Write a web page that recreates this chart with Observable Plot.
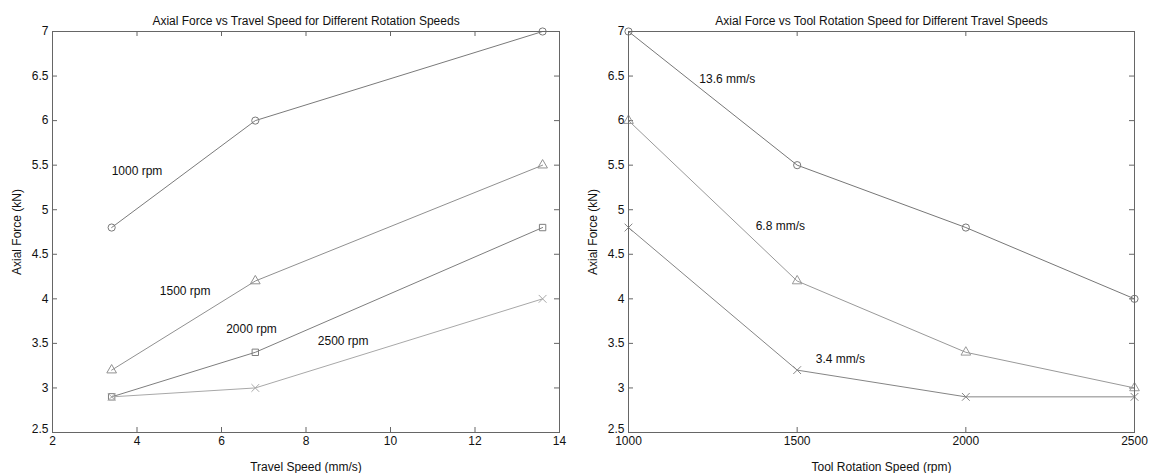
<!DOCTYPE html>
<html>
<head>
<meta charset="utf-8">
<script src="https://cdn.jsdelivr.net/npm/d3@7"></script>
<script src="https://cdn.jsdelivr.net/npm/@observablehq/plot@0.6"></script>
<style>
  html, body { margin: 0; padding: 0; background: #fff; }
  #wrap { display: flex; width: 1153px; height: 473px; }
</style>
</head>
<body>
<div id="wrap"></div>
<script>
// ---------- data ----------
const travelSpeeds = [3.4, 6.8, 13.6];
const rpm1000 = [4.8, 6.0, 7.0];
const rpm1500 = [3.2, 4.2, 5.5];
const rpm2000 = [2.9, 3.4, 4.8];
const rpm2500 = [2.9, 3.0, 4.0];

const rotationSpeeds = [1000, 1500, 2000, 2500];
const ts136 = [7.0, 5.5, 4.8, 4.0];
const ts68 = [6.0, 4.2, 3.4, 3.0];
const ts34 = [4.8, 3.2, 2.9, 2.9];

const leftXTicks = [2, 4, 6, 8, 10, 12, 14];
const rightXTicks = [1000, 1500, 2000, 2500];
const yTicks = [2.5, 3, 3.5, 4, 4.5, 5, 5.5, 6, 6.5, 7];

const leftLabels = [
  {x: 3.40, y: 5.43, text: "1000 rpm"},
  {x: 4.54, y: 4.09, text: "1500 rpm"},
  {x: 6.11, y: 3.66, text: "2000 rpm"},
  {x: 8.28, y: 3.53, text: "2500 rpm"}
];
const rightLabels = [
  {x: 1210, y: 6.46, text: "13.6 mm/s"},
  {x: 1377, y: 4.81, text: "6.8 mm/s"},
  {x: 1555, y: 3.32, text: "3.4 mm/s"}
];

// ---------- build ----------
const leftSeries = [
  {values: rpm1000, symbol: "circle", color: "#7a7a7a"},
  {values: rpm1500, symbol: "triangle", color: "#909090"},
  {values: rpm2000, symbol: "square", color: "#7e7e7e"},
  {values: rpm2500, symbol: "times", color: "#a8a8a8"}
];
const rightSeries = [
  {values: ts136, symbol: "circle", color: "#777777"},
  {values: ts68, symbol: "triangle", color: "#999999"},
  {values: ts34, symbol: "times", color: "#858585"}
];

const H = 473, MT = 31, MB = 41;
const frameH = H - MT - MB;
const TICK = 5;

function panel({xs, series, xDomain, xTicks, xLabel, title, labels, width, marginLeft, marginRight}) {
  const frameW = width - marginLeft - marginRight;
  const marks = [];
  const innerX = xTicks.slice(1, -1);
  const innerY = yTicks.slice(1, -1);
  marks.push(Plot.tickX(innerX, {x: d => d, insetTop: frameH - TICK, stroke: "#666"}));
  marks.push(Plot.tickX(innerX, {x: d => d, insetBottom: frameH - TICK, stroke: "#666"}));
  marks.push(Plot.tickY(innerY, {y: d => d, insetLeft: frameW - TICK, stroke: "#666"}));
  marks.push(Plot.tickY(innerY, {y: d => d, insetRight: frameW - TICK, stroke: "#666"}));
  for (const s of series) {
    const rows = xs.map((x, i) => ({x, y: s.values[i]}));
    marks.push(Plot.line(rows, {x: "x", y: "y", stroke: s.color, strokeWidth: 1}));
    marks.push(Plot.dot(rows, {x: "x", y: "y", symbol: () => s.symbol, stroke: s.color, fill: "none", r: 3.6, strokeWidth: 1}));
  }
  marks.push(Plot.text(labels, {x: "x", y: "y", text: "text", textAnchor: "start", fill: "#111", fontSize: 12}));
  marks.push(Plot.frame({stroke: "#666"}));
  marks.push(Plot.text([title], {frameAnchor: "top", dy: -15, text: d => d, fontSize: 12, fill: "#111"}));
  marks.push(Plot.axisX(xTicks, {tickSize: 0, tickPadding: 4, tickFormat: d => String(d), label: xLabel, labelAnchor: "center", labelArrow: "none", labelOffset: 38, fontSize: 12, color: "#111"}));
  marks.push(Plot.axisY(yTicks.slice(1), {tickSize: 0, tickPadding: 4, tickFormat: d => String(d), label: "Axial Force (kN)", labelAnchor: "center", labelArrow: "none", labelOffset: 40, fontSize: 12, color: "#111"}));
  marks.push(Plot.axisY(yTicks.slice(0, 1), {tickSize: 0, tickPadding: 4, dy: -3, tickFormat: d => String(d), label: null, fontSize: 12, color: "#111"}));
  return Plot.plot({
    width, height: H,
    marginTop: MT, marginBottom: MB, marginLeft, marginRight,
    x: {domain: xDomain},
    y: {domain: [2.5, 7]},
    style: {fontFamily: "'Liberation Sans', Arial, sans-serif", fontSize: "12px", background: "#fff", color: "#111", overflow: "visible"},
    marks
  });
}

const wrap = document.getElementById("wrap");
wrap.appendChild(panel({
  xs: travelSpeeds, series: leftSeries, xDomain: [2, 14], xTicks: leftXTicks,
  xLabel: "Travel Speed (mm/s)", title: "Axial Force vs Travel Speed for Different Rotation Speeds",
  labels: leftLabels, width: 576, marginLeft: 52, marginRight: 17
}));
wrap.appendChild(panel({
  xs: rotationSpeeds, series: rightSeries, xDomain: [1000, 2500], xTicks: rightXTicks,
  xLabel: "Tool Rotation Speed (rpm)", title: "Axial Force vs Tool Rotation Speed for Different Travel Speeds",
  labels: rightLabels, width: 577, marginLeft: 52, marginRight: 19
}));
</script>
</body>
</html>
